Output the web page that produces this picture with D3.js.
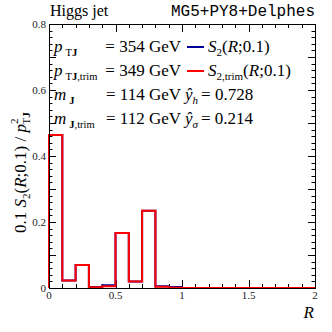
<!DOCTYPE html>
<html>
<head>
<meta charset="utf-8">
<script src="https://d3js.org/d3.v7.min.js"></script>
<style>
  body { margin: 0; background: #fff; }
  svg { display: block; }
  text { font-family: "Liberation Serif", "Times New Roman", serif; fill: #000; }
  .tick-label { font-size: 11px; fill: #222; }
  .mono { font-family: "Liberation Mono", "DejaVu Sans Mono", monospace; }
</style>
</head>
<body>
<script>
// bin edges of the histogram (width 0.1, 0 .. 2)
var binLow = [0, 0.1, 0.2, 0.3, 0.4, 0.5, 0.6, 0.7, 0.8, 0.9,
              1.0, 1.1, 1.2, 1.3, 1.4, 1.5, 1.6, 1.7, 1.8, 1.9];
// S2(R;0.1) and trimmed version, scaled 0.1 / pT^2
var s2Values   = [0.464, 0.023, 0.070, 0.003, 0.008, 0.167, 0.020, 0.234, 0.005, 0.003,
                  0, 0, 0, 0, 0, 0, 0, 0, 0, 0];
var s2TrimVals = [0.464, 0.023, 0.070, 0.002, 0.005, 0.167, 0.020, 0.234, 0.004, 0.001,
                  0, 0, 0, 0, 0, 0, 0, 0, 0, 0];
var xTickLabels = [0, 0.5, 1, 1.5, 2];
var yTickLabels = [0, 0.2, 0.4, 0.6, 0.8];

var width = 332, height = 332;
// plot frame (don't use "top", it's window.top)
var pLeft = 49, pRight = 315, pTop = 24, pBottom = 288;

var svg = d3.select("body").append("svg")
  .attr("width", width)
  .attr("height", height);

var x = d3.scaleLinear().domain([0, 2]).range([pLeft, pRight]);
var y = d3.scaleLinear().domain([0, 0.8]).range([pBottom, pTop]);

// ticks, drawn inward on all four sides
var ticks = svg.append("g").attr("stroke", "#000").attr("stroke-width", 1);
d3.range(0, 21).forEach(function(i) {
  var v = i / 10, len = (i % 5 == 0) ? 8 : 4;
  var px = Math.round(x(v)) + 0.5;
  ticks.append("line").attr("x1", px).attr("x2", px).attr("y1", pBottom).attr("y2", pBottom - len);
  ticks.append("line").attr("x1", px).attr("x2", px).attr("y1", pTop).attr("y2", pTop + len);
});
d3.range(0, 41).forEach(function(i) {
  var v = i / 50, len = (i % 5 == 0) ? 7 : 3.5;
  var py = Math.round(y(v)) + 0.5;
  ticks.append("line").attr("y1", py).attr("y2", py).attr("x1", pLeft).attr("x2", pLeft + len);
  ticks.append("line").attr("y1", py).attr("y2", py).attr("x1", pRight).attr("x2", pRight - len);
});

// histograms as step lines
function histPoints(vals) {
  var pts = [[0, 0]];
  vals.forEach(function(v, i) { pts.push([binLow[i], v]); });
  pts.push([2, vals[vals.length - 1]]);
  return pts;
}
var line = d3.line()
  .x(function(d) { return x(d[0]); })
  .y(function(d) { return y(d[1]); })
  .curve(d3.curveStepAfter);

svg.append("path")
  .attr("d", line(histPoints(s2Values)))
  .attr("fill", "none").attr("stroke", "#000099").attr("stroke-width", 2);
svg.append("path")
  .attr("d", line(histPoints(s2TrimVals)))
  .attr("fill", "none").attr("stroke", "#ff0000").attr("stroke-width", 2);

// frame
svg.append("rect")
  .attr("x", pLeft + 0.5).attr("y", pTop + 0.5)
  .attr("width", pRight - pLeft).attr("height", pBottom - pTop)
  .attr("fill", "none").attr("stroke", "#000").attr("stroke-width", 1);

// tick labels
svg.selectAll(".xl").data(xTickLabels).enter().append("text")
  .attr("class", "tick-label")
  .attr("x", function(d) { return x(d); })
  .attr("y", 299)
  .attr("text-anchor", "middle")
  .text(function(d) { return d; });
svg.selectAll(".yl").data(yTickLabels).enter().append("text")
  .attr("class", "tick-label")
  .attr("x", 46)
  .attr("y", function(d) { return y(d) + 4; })
  .attr("text-anchor", "end")
  .text(function(d) { return d; });

// header
svg.append("text").attr("x", 50).attr("y", 16).attr("font-size", 16).text("Higgs jet");
svg.append("text").attr("class", "mono").attr("x", 315).attr("y", 16)
  .attr("font-size", 16).attr("text-anchor", "end").text("MG5+PY8+Delphes");

// axis titles
svg.append("text").attr("x", 314).attr("y", 318).attr("font-size", 17)
  .attr("font-style", "italic").attr("text-anchor", "end").text("R");

var yt = svg.append("text")
  .attr("transform", "translate(26,233) rotate(-90)")
  .attr("font-size", 17);
yt.append("tspan").text("0.1 ");
yt.append("tspan").attr("font-style", "italic").text("S");
yt.append("tspan").attr("font-size", 11).attr("dy", 4).text("2");
yt.append("tspan").attr("dy", -4).text("(");
yt.append("tspan").attr("font-style", "italic").text("R");
yt.append("tspan").text(";0.1) / ");
yt.append("tspan").attr("font-style", "italic").text("p");
yt.append("tspan").attr("font-size", 11).attr("dy", -8).text("2");
yt.append("tspan").attr("font-size", 11).attr("dx", -6).attr("dy", 12).text("T");
yt.append("tspan").attr("font-size", 11).attr("font-weight", "bold").text("J");

// legend block
var fs = 17, rows = [52, 76, 100, 124];

function leftLabel(row, sym, sub) {
  var t = svg.append("text").attr("x", 54).attr("y", rows[row]).attr("font-size", fs);
  t.append("tspan").attr("font-style", "italic").text(sym);
  sub.forEach(function(s, i) {
    var ts = t.append("tspan").attr("font-size", 10.5).text(s[0]);
    if (i == 0) ts.attr("dy", 4).attr("dx", 3);
    if (s[1]) ts.attr("font-weight", "bold");
  });
}
leftLabel(0, "p", [["T", false], ["J", true]]);
leftLabel(1, "p", [["T", false], ["J", true], [",trim", false]]);
leftLabel(2, "m", [["J", true]]);
leftLabel(3, "m", [["J", true], [",trim", false]]);

var values = ["= 354 GeV", "= 349 GeV", "= 114 GeV", "= 112 GeV"];
values.forEach(function(v, i) {
  svg.append("text").attr("x", 181).attr("y", rows[i]).attr("font-size", fs)
    .attr("text-anchor", "end").text(v);
});

// legend entries for the two histograms
[["#000099", ""], ["#ff0000", ",trim"]].forEach(function(e, i) {
  svg.append("line").attr("x1", 187).attr("x2", 204)
    .attr("y1", rows[i] - 5).attr("y2", rows[i] - 5)
    .attr("stroke", e[0]).attr("stroke-width", 2);
  var t = svg.append("text").attr("x", 208).attr("y", rows[i]).attr("font-size", fs);
  t.append("tspan").attr("font-style", "italic").text("S");
  t.append("tspan").attr("font-size", 11).attr("dy", 4).text("2" + e[1]);
  t.append("tspan").attr("dy", -4).text("(");
  t.append("tspan").attr("font-style", "italic").text("R");
  t.append("tspan").text(";0.1)");
});

// y-hat values
[["h", "= 0.728"], ["\u03c3", "= 0.214"]].forEach(function(e, i) {
  var t = svg.append("text").attr("x", 185).attr("y", rows[i + 2]).attr("font-size", fs);
  t.append("tspan").attr("font-style", "italic").text("\u0177");
  t.append("tspan").attr("font-style", "italic").attr("font-size", 11).attr("dy", 4).text(e[0]);
  t.append("tspan").attr("dy", -4).attr("dx", 3).text(e[1]);
});
</script>
</body>
</html>
